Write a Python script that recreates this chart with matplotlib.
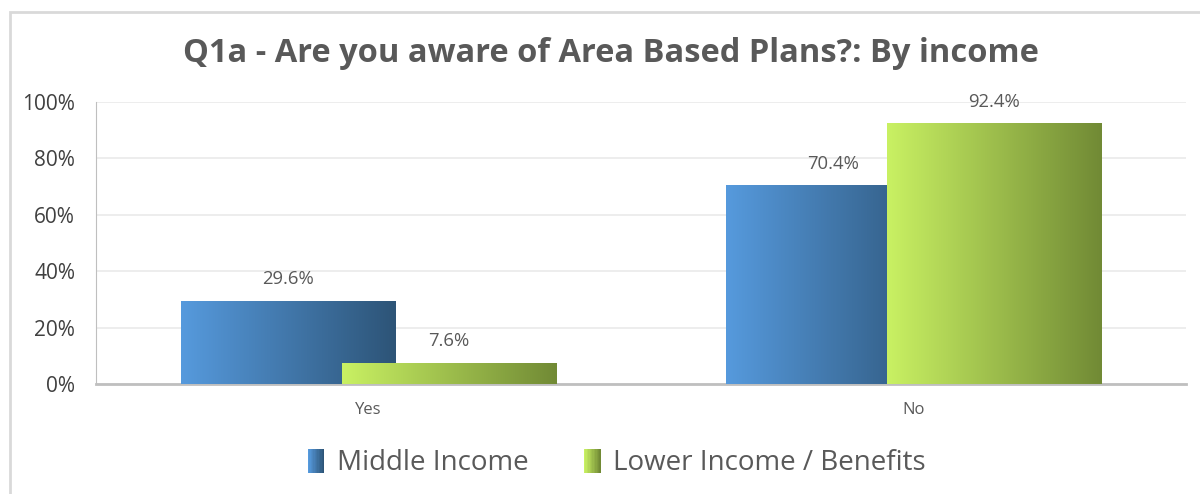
import numpy as np
import matplotlib
matplotlib.use("Agg")
import matplotlib.pyplot as plt
from matplotlib.patches import Rectangle
from matplotlib.legend_handler import HandlerBase
from matplotlib.colors import LinearSegmentedColormap

# Datos
categorias = ["Yes", "No"]
series = ["Middle Income", "Lower Income / Benefits"]
middle_income = [29.6, 70.4]
lower_income = [7.6, 92.4]
titulo = "Q1a - Are you aware of Area Based Plans?: By income"

# Gradientes (izquierda -> derecha)
grad_azul = ["#569ADD", "#2D5477"]
grad_verde = ["#C9F163", "#718A35"]

plt.rcParams["font.family"] = ["Open Sans", "DejaVu Sans"]

fig = plt.figure(figsize=(12, 4.94), dpi=100)
ax = fig.add_axes([96 / 1200, 110 / 494, 1090 / 1200, 282 / 494])

x = np.arange(len(categorias))
ancho = 0.393
desplaz = 0.148


def barras_gradiente(ax, xs, vals, colores, zorder):
    cmap = LinearSegmentedColormap.from_list("g", colores)
    bars = ax.bar(xs, vals, width=ancho, color="none", zorder=zorder)
    grad = np.linspace(0, 1, 256).reshape(1, -1)
    for b in bars:
        x0, y0 = b.get_x(), b.get_y()
        im = ax.imshow(grad, cmap=cmap, aspect="auto",
                       extent=[x0, x0 + b.get_width(), y0, y0 + b.get_height()],
                       zorder=zorder)
        # fondo blanco para tapar la barra de atrás
        fondo = Rectangle((x0, y0), b.get_width(), b.get_height(),
                          facecolor="white", edgecolor="none", zorder=zorder - 0.1)
        ax.add_patch(fondo)
        im.set_clip_path(b)
    return bars


b1 = barras_gradiente(ax, x - desplaz, middle_income, grad_azul, 3)
b2 = barras_gradiente(ax, x + desplaz, lower_income, grad_verde, 4)

# Etiquetas de datos
for bars in (b1, b2):
    for b in bars:
        h = b.get_height()
        ax.annotate(f"{h:.1f}%", (b.get_x() + b.get_width() / 2, h),
                    xytext=(0, 9), textcoords="offset points",
                    ha="center", va="bottom", fontsize=13.3, color="#595959", zorder=6)

ax.set_xlim(-0.5, 1.5)
ax.set_ylim(0, 100)
ax.set_yticks(range(0, 101, 20))
ax.set_yticklabels([f"{v}%" for v in range(0, 101, 20)], fontsize=15, color="#404040")
ax.set_xticks(x)
ax.set_xticklabels(categorias, fontsize=12, color="#595959")
ax.tick_params(axis="both", length=0)
ax.tick_params(axis="y", pad=15)
ax.tick_params(axis="x", pad=13)
ax.grid(axis="y", color="#EAEAEA", linewidth=1.2, zorder=0)
ax.set_axisbelow(True)
for s in ("top", "right"):
    ax.spines[s].set_visible(False)
ax.spines["left"].set_color("#BFBFBF")
ax.spines["bottom"].set_color("#BFBFBF")
ax.spines["bottom"].set_linewidth(2)

fig.text(0.509, 1 - 53 / 494, titulo, ha="center", va="center",
         fontsize=23.5, fontweight="bold", color="#595959")


# Leyenda con cuadritos en gradiente
class HandlerGradiente(HandlerBase):
    def __init__(self, colores):
        super().__init__()
        self.cmap = LinearSegmentedColormap.from_list("g", colores)

    def create_artists(self, legend, orig_handle, xdescent, ydescent,
                       width, height, fontsize, trans):
        n = 12
        w = width / n
        arts = []
        for i in range(n):
            r = Rectangle((-xdescent + i * w, -ydescent), w * 1.05, height,
                          facecolor=self.cmap(i / (n - 1)), edgecolor="none",
                          transform=trans)
            arts.append(r)
        return arts


h1 = Rectangle((0, 0), 1, 1)
h2 = Rectangle((0, 0), 1, 1)
fig.legend([h1, h2], series, loc="center", bbox_to_anchor=(0.514, 1 - 463 / 494),
           ncol=2, frameon=False, fontsize=20, labelcolor="#595959",
           handlelength=0.6, handleheight=0.95, handletextpad=0.45, columnspacing=2.0,
           handler_map={h1: HandlerGradiente(grad_azul), h2: HandlerGradiente(grad_verde)})

# Borde del gráfico
fig.patches.append(Rectangle((10 / 1200, -0.05), 1.2, 1 - 12 / 494 + 0.05,
                             transform=fig.transFigure, fill=False,
                             edgecolor="#D9D9D9", linewidth=2))

fig.savefig("out.png", dpi=100)
